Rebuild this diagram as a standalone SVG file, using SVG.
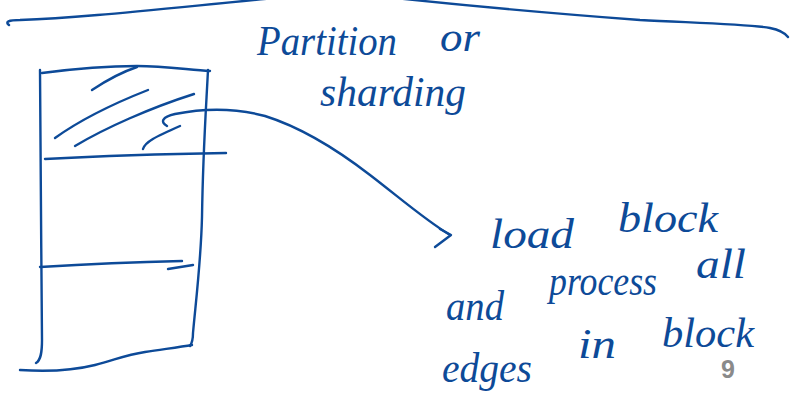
<svg xmlns="http://www.w3.org/2000/svg" width="790" height="409" viewBox="0 0 790 409">
<style>
.ink{fill:none;stroke:#0d4a98;stroke-width:2.4;stroke-linecap:round;stroke-linejoin:round}
.hw{font-family:"Liberation Serif","DejaVu Serif",serif;font-style:italic;fill:#0d4a98;font-size:42px}
.pg{font-family:"Liberation Sans","DejaVu Sans",sans-serif;fill:#8a8a8a;font-size:25px;font-weight:bold}
</style>
<rect width="790" height="409" fill="#ffffff"/>
<g id="topline">
<path class="ink" d="M9,25 C5,22 8,20 20,20 C80,18 150,10 275,-2 M395,-2 C470,6 560,14 640,20 C700,23 750,24 770,28 C780,30 785,33 788,37"/>
</g>
<g id="block">
<path class="ink" d="M40,70 C41,150 41,250 42,340 C42,352 41,360 36,363"/>
<path class="ink" d="M42,73 C80,68 110,66 137,66 C165,66 190,70 210,71"/>
<path class="ink" d="M208,70 C206,110 203,150 202,217 C201,260 196,300 193,333 C193,340 192,343 190,346"/>
<path class="ink" d="M20,370 C50,372 75,370 95,365 C115,360 125,355 145,352 C165,349 180,347 192,345"/>
<path class="ink" d="M45,159 C100,156 160,154 226,153"/>
<path class="ink" d="M40,267 C90,264 140,262 182,261"/>
<path class="ink" d="M168,269 L193,265"/>
<path class="ink" d="M92,90 C110,78 125,71 137,67"/>
<path class="ink" d="M55,138 C80,120 115,103 148,90"/>
<path class="ink" d="M75,146 C105,128 150,108 194,94"/>
<path class="ink" d="M143,149 C145,142 155,137 180,126"/>
</g>
<g id="connectors">
<path class="ink" d="M167,126 C160,122 162,117 175,114 C205,108 235,108 265,116 C300,127 335,148 370,175 C400,198 425,220 450,235"/>
<path class="ink" d="M440,229 L451,235 L435,247"/>
</g>
<g id="label-partition">
<text class="hw" x="257" y="55" textLength="140" lengthAdjust="spacingAndGlyphs">Partition</text>
<text class="hw" x="440" y="51" textLength="40" lengthAdjust="spacingAndGlyphs">or</text>
<text class="hw" x="320" y="106" textLength="146" lengthAdjust="spacingAndGlyphs">sharding</text>
</g>
<g id="label-load">
<text class="hw" x="490" y="248" textLength="84" lengthAdjust="spacingAndGlyphs">load</text>
<text class="hw" x="618" y="232" textLength="100" lengthAdjust="spacingAndGlyphs">block</text>
<text class="hw" x="446" y="320" textLength="58" lengthAdjust="spacingAndGlyphs">and</text>
<text class="hw" x="549" y="295" textLength="108" lengthAdjust="spacingAndGlyphs">process</text>
<text class="hw" x="696" y="278" textLength="50" lengthAdjust="spacingAndGlyphs">all</text>
<text class="hw" x="442" y="382" textLength="90" lengthAdjust="spacingAndGlyphs">edges</text>
<text class="hw" x="578" y="358" textLength="38" lengthAdjust="spacingAndGlyphs">in</text>
<text class="hw" x="662" y="347" textLength="92" lengthAdjust="spacingAndGlyphs">block</text>
</g>
<text class="pg" x="721" y="378">9</text>
</svg>
